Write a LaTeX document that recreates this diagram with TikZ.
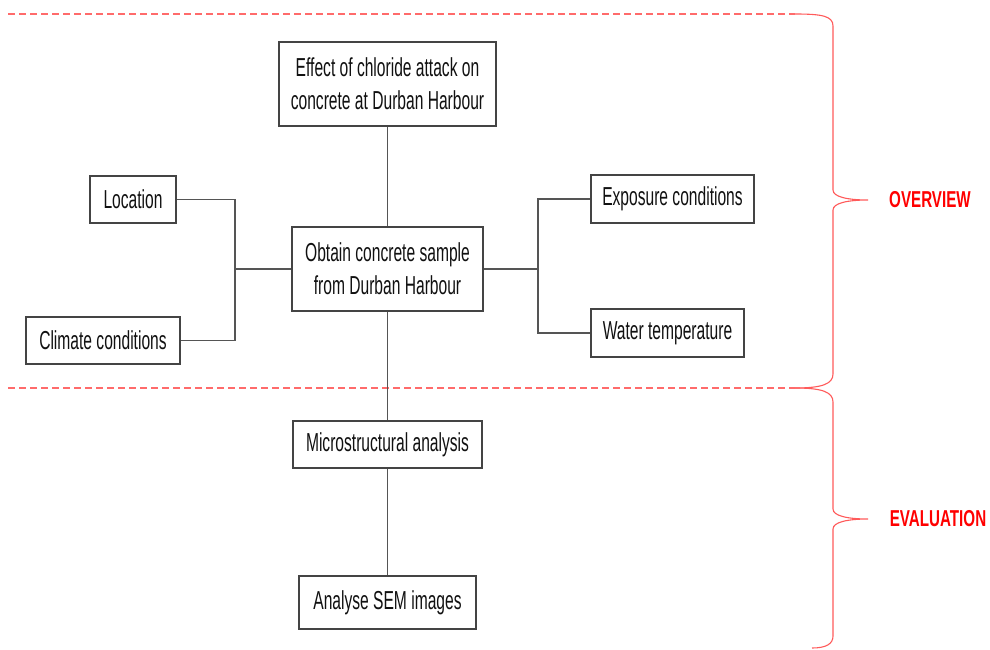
\documentclass[tikz,border=0pt]{standalone}
\usepackage{fontspec}
\newfontfamily\boxfont[FakeStretch=0.6]{Liberation Sans}
\newfontfamily\labfont[FakeStretch=0.66]{Liberation Sans}
\definecolor{linegray}{HTML}{555555}
\definecolor{boxgray}{HTML}{444444}
\definecolor{txt}{HTML}{111111}
\definecolor{dashred}{HTML}{FF6B6B}
\definecolor{bracered}{HTML}{FF5A5A}
\definecolor{labred}{HTML}{FF0000}
\tikzset{
  x=1pt, y=-1pt,
  boxnode/.style={draw=boxgray, line width=1.5pt, fill=white, inner sep=0pt, align=center,
    text=txt, font=\boxfont\fontsize{26}{33}\selectfont},
  conn/.style={draw=linegray, line width=1.5pt},
  sepline/.style={draw=dashred, line width=1.6pt, dash pattern=on 7pt off 4pt},
  bracepath/.style={draw=bracered, line width=1.1pt},
  sectionlabel/.style={text=labred, font=\labfont\bfseries\fontsize{23}{26}\selectfont, inner sep=0pt}
}
\begin{document}
\begin{tikzpicture}
\useasboundingbox (0,0) rectangle (990,650);

% separators and braces
\draw[sepline] (8,14) -- (795,14);
\draw[sepline] (8,388) -- (795,388);
\draw[bracepath] (795,14) .. controls (822,14) and (833,16) .. (833,26) -- (833,190)
  .. controls (833,197) and (848,200) .. (868,200)
  .. controls (848,200) and (833,203) .. (833,210) -- (833,374)
  .. controls (833,384) and (822,388) .. (795,388);
\draw[bracepath] (795,388) .. controls (822,388) and (833,392) .. (833,402) -- (833,509)
  .. controls (833,516) and (848,519) .. (868,519)
  .. controls (848,519) and (833,522) .. (833,529) -- (833,636)
  .. controls (833,644) and (826,648) .. (812,648);

\node[sectionlabel] (ov) at (930,200) {OVERVIEW};
\node[sectionlabel] (ev) at (938,519) {EVALUATION};

% boxes
\node[boxnode, minimum width=217pt, minimum height=84pt] (effect) at (387.5,84) {Effect of chloride attack on\\concrete at Durban Harbour};
\node[boxnode, minimum width=191pt, minimum height=84pt] (obtain) at (387.5,269) {Obtain concrete sample\\from Durban Harbour};
\node[boxnode, minimum width=86pt, minimum height=47pt] (loc) at (133,199.5) {Location};
\node[boxnode, minimum width=154pt, minimum height=47pt] (clim) at (103,340.5) {Climate conditions};
\node[boxnode, minimum width=163pt, minimum height=48pt] (expo) at (672.5,199) {Exposure conditions};
\node[boxnode, minimum width=153pt, minimum height=48pt] (water) at (667.5,333) {Water temperature};
\node[boxnode, minimum width=189pt, minimum height=47pt] (micro) at (387.5,444.5) {Microstructural analysis};
\node[boxnode, minimum width=177pt, minimum height=53pt] (sem) at (387.5,602.5) {Analyse SEM images};

% junctions
\coordinate (jl) at (235,269);
\coordinate (jr) at (538,269);

% connectors
\draw[conn] (effect.south) -- (obtain.north);
\draw[conn] (obtain.south) -- (micro.north);
\draw[conn] (micro.south) -- (sem.north);
\draw[conn] (loc.east) -| (jl);
\draw[conn] (clim.east) -| (jl);
\draw[conn] (jl) -- (obtain.west);
\draw[conn] (expo.west) -| (jr);
\draw[conn] (water.west) -| (jr);
\draw[conn] (jr) -- (obtain.east);
\end{tikzpicture}
\end{document}
